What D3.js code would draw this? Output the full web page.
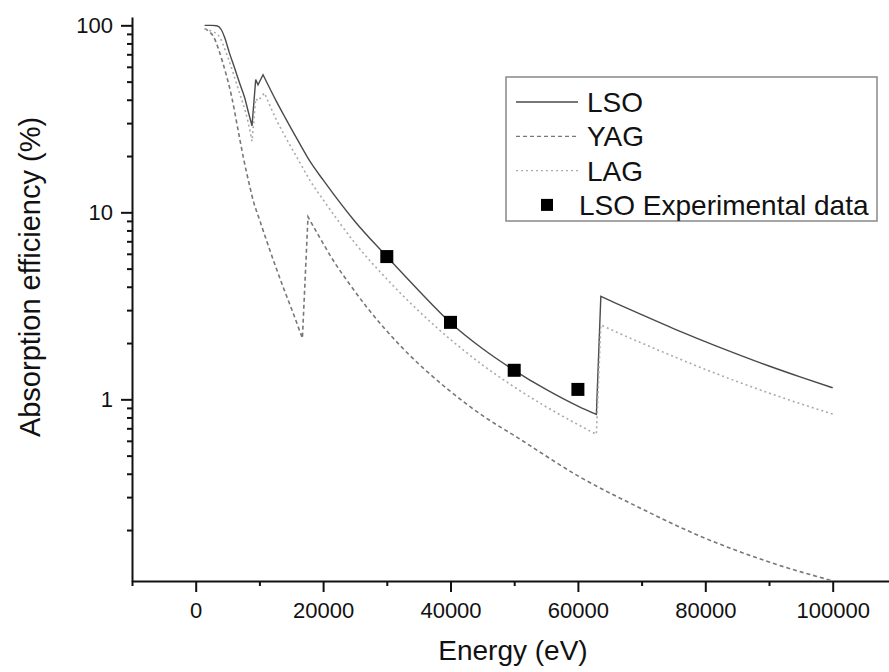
<!DOCTYPE html>
<html>
  <head>
    <meta charset="utf-8">
    <title>Absorption efficiency</title>
    <script type="text/javascript" src="https://d3js.org/d3.v7.min.js"></script>
    <style>
      body { margin: 0; background: #ffffff; }
      svg { font-family: "Liberation Sans", Arial, sans-serif; }
      .axis path, .axis line { stroke: #111; stroke-width: 2px; }
      .axis text { font-size: 22px; fill: #111; }
    </style>
  </head>
  <body>
    <script type="text/javascript">

      // energies in eV, efficiencies in %
      var lsoEnergy = [1400, 2500, 3300, 4000, 4550, 5300, 6120, 6900, 7690, 8300, 8840,
                       9420, 9780,
                       10570, 12670, 14000, 16330, 18000, 20000, 25000, 30000, 35000, 40000, 45000, 50000, 55000, 60000, 62900,
                       63600, 66000, 70000, 75000, 79000, 85000, 90000, 95000, 100000];
      var lsoValue  = [100, 100, 99.5, 95, 86, 71, 59, 49, 41, 34, 29,
                       51.3, 48.1,
                       54.4, 39.2, 32.3, 23.3, 18.6, 14.9, 8.93, 5.8, 3.82, 2.57, 1.87, 1.43, 1.13, 0.92, 0.83,
                       3.55, 3.26, 2.835, 2.39, 2.1, 1.745, 1.507, 1.314, 1.153];

      var yagEnergy = [1400, 2200, 2800, 3500, 4200, 4820, 5650, 6640, 7500, 8480, 9100, 9800, 11100, 12400, 13710, 15200, 16750,
                       17630, 19500, 21550, 24000, 26800, 32030, 39600, 45000, 50340, 60280, 70000, 79120, 90000, 100000];
      var yagValue  = [96, 92, 87, 76, 64, 54, 41.5, 27.7, 19.5, 13.8, 11.3, 9.6, 7.1, 5.3, 4.0, 2.95, 2.12,
                       9.47, 7.3, 5.56, 4.2, 3.13, 1.95, 1.13, 0.82, 0.63, 0.385, 0.26, 0.186, 0.135, 0.107];

      var lagEnergy = [1400, 2500, 3500, 5070, 6640, 8210, 8840,
                       9420, 9800,
                       10800, 12670, 14000, 16330, 18000, 20000, 25000, 30000, 35000, 40000, 45000, 50000, 55000, 60000, 62900,
                       63600, 66000, 70000, 75000, 79000, 85000, 90000, 95000, 100000];
      var lagValue  = [96, 93, 89, 67, 46, 30.5, 24,
                       40.5, 39.5,
                       43.5, 31.2, 25.6, 18.5, 14.7, 11.7, 6.85, 4.4, 2.97, 2.09, 1.53, 1.165, 0.913, 0.733, 0.65,
                       2.5, 2.294, 2.0, 1.696, 1.492, 1.245, 1.081, 0.946, 0.835];

      var expEnergy = [30000, 40000, 50000, 60000];
      var expValue  = [5.8, 2.58, 1.43, 1.13];

      var xMajor = [0, 20000, 40000, 60000, 80000, 100000];
      var xMinor = [-10000, 10000, 30000, 50000, 70000, 90000];
      var yMajor = [1, 10, 100];
      var yMinor = [0.2, 0.3, 0.4, 0.5, 0.6, 0.7, 0.8, 0.9, 2, 3, 4, 5, 6, 7, 8, 9, 20, 30, 40, 50, 60, 70, 80, 90];

      var legendNames = ["LSO", "YAG", "LAG", "LSO Experimental data"];

      var width = 889;
      var height = 672;

      var svg = d3.select("body")
        .append("svg")
        .attr("width", width)
        .attr("height", height);

      svg.append("rect")
        .attr("width", width)
        .attr("height", height)
        .attr("fill", "#fff");

      var xScale = d3.scaleLinear().domain([-10000, 110000]).range([132, 896.4]);
      var yScale = d3.scaleLog().domain([0.1068, 110.8]).range([581, 17]);

      // axes
      svg.append("g")
        .attr("class", "axis")
        .attr("transform", "translate(0,581)")
        .call(d3.axisBottom(xScale).tickValues(xMajor).tickSize(11).tickPadding(10)
          .tickSizeOuter(0).tickFormat(d3.format("d")));
      svg.append("g")
        .attr("class", "axis")
        .attr("transform", "translate(0,581)")
        .call(d3.axisBottom(xScale).tickValues(xMinor).tickSize(5).tickSizeOuter(0).tickFormat(""))
        .select(".domain").remove();

      svg.append("g")
        .attr("class", "axis")
        .attr("transform", "translate(132,0)")
        .call(d3.axisLeft(yScale).tickValues(yMajor).tickSize(11).tickPadding(8)
          .tickSizeOuter(0).tickFormat(d3.format("d")));
      svg.append("g")
        .attr("class", "axis")
        .attr("transform", "translate(132,0)")
        .call(d3.axisLeft(yScale).tickValues(yMinor).tickSize(5).tickSizeOuter(0).tickFormat(""))
        .select(".domain").remove();

      svg.append("text")
        .attr("x", 513)
        .attr("y", 660)
        .attr("text-anchor", "middle")
        .style("font-size", "28px")
        .attr("fill", "#111")
        .text("Energy (eV)");

      svg.append("text")
        .attr("transform", "translate(40,277) rotate(-90)")
        .attr("text-anchor", "middle")
        .style("font-size", "29px")
        .attr("fill", "#111")
        .text("Absorption efficiency (%)");

      // curves: smooth between absorption edges, straight up at each edge
      var line = d3.line()
        .x(function(d) { return xScale(d[0]); })
        .y(function(d) { return yScale(d[1]); })
        .curve(d3.curveMonotoneX);

      function edgePath(energy, value) {
        var pieces = [], cur = [];
        for (var i = 0; i < energy.length; i++) {
          if (i > 0 && value[i] > value[i - 1]) { pieces.push(cur); cur = []; }
          cur.push([energy[i], value[i]]);
        }
        pieces.push(cur);
        return pieces.map(function(p, k) {
          var s = line(p);
          return k === 0 ? s : "L" + s.slice(1);
        }).join("");
      }

      var series = [
        { e: lsoEnergy, v: lsoValue, color: "#4a4a4a", dash: null, w: 1.4 },
        { e: yagEnergy, v: yagValue, color: "#777", dash: "4,3", w: 1.6 },
        { e: lagEnergy, v: lagValue, color: "#aaa", dash: "2,3", w: 1.6 }
      ];

      series.forEach(function(s) {
        svg.append("path")
          .attr("d", edgePath(s.e, s.v))
          .attr("fill", "none")
          .attr("stroke", s.color)
          .attr("stroke-width", s.w)
          .attr("stroke-dasharray", s.dash);
      });

      svg.selectAll(".exp")
        .data(expEnergy)
        .enter()
        .append("rect")
        .attr("class", "exp")
        .attr("x", function(d) { return xScale(d) - 6.5; })
        .attr("y", function(d, i) { return yScale(expValue[i]) - 6.5; })
        .attr("width", 13)
        .attr("height", 13)
        .attr("fill", "#000");

      // legend
      var legend = svg.append("g").attr("class", "legend");
      legend.append("rect")
        .attr("x", 506)
        .attr("y", 77)
        .attr("width", 371)
        .attr("height", 144)
        .attr("fill", "#fff")
        .attr("stroke", "#888")
        .attr("stroke-width", 1.5);

      legendNames.forEach(function(name, i) {
        var y = 102 + i * 34.3;
        if (i < 3) {
          legend.append("line")
            .attr("x1", 516).attr("x2", 578)
            .attr("y1", y).attr("y2", y)
            .attr("stroke", series[i].color)
            .attr("stroke-width", 1.3)
            .attr("stroke-dasharray", series[i].dash);
        } else {
          legend.append("rect")
            .attr("x", 541).attr("y", y - 6)
            .attr("width", 12).attr("height", 12)
            .attr("fill", "#000");
        }
        legend.append("text")
          .attr("x", i < 3 ? 587 : 579)
          .attr("y", y)
          .attr("dy", "0.36em")
          .style("font-size", "28px")
          .attr("fill", "#111")
          .text(name);
      });

    </script>
  </body>
</html>
